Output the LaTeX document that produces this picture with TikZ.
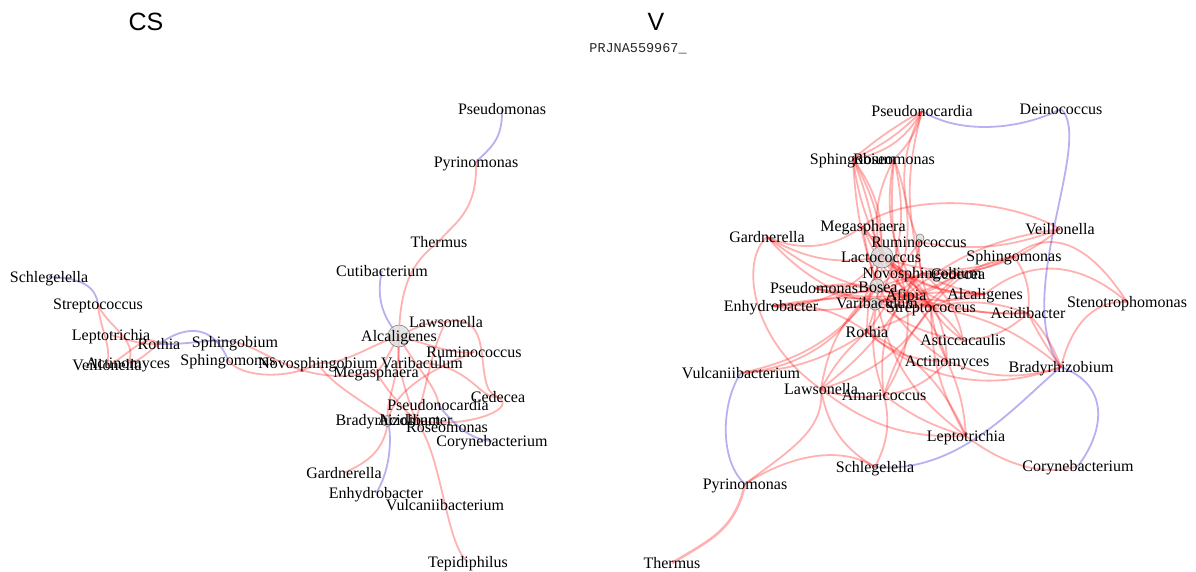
\documentclass[tikz,border=0pt]{standalone}
\usepackage{fontspec}
\setmainfont{Liberation Serif}
\newfontfamily\ttlfont{Liberation Sans}
\newfontfamily\prjfont{Liberation Mono}
\usetikzlibrary{backgrounds}
\definecolor{edgeblue}{RGB}{100,80,220}
\definecolor{edgered}{RGB}{255,0,0}
\begin{document}
\begin{tikzpicture}[x=1pt,y=-1pt,
  lab/.style={inner sep=0pt, text height=10.5pt, text depth=0pt, font=\fontsize{16}{18}\selectfont},
  re/.style={draw=edgered, draw opacity=0.3, line width=1.8pt},
  be/.style={draw=edgeblue, draw opacity=0.45, line width=1.8pt},
  hub/.style={circle, draw=black!50, fill=black!12, fill opacity=0.85, inner sep=0pt, line width=0.6pt}]
\useasboundingbox (0,0) rectangle (1196,571);

% titles
\node[font=\ttlfont\fontsize{25}{25}\selectfont] (tCS) at (146,22) {CS};
\node[font=\ttlfont\fontsize{25}{25}\selectfont] (tV) at (656,22) {V};
\node[anchor=base, font=\prjfont\fontsize{13.5}{14}\selectfont, text=black!85] (tP) at (638,52) {PRJNA559967\_};

% ---------- CS network ----------
\node[hub, minimum size=22pt] (cAlcH) at (399,336) {};
\node[hub, minimum size=11pt] (cBraH) at (387,421) {};
\node[lab] (cPsm) at (502,109) {Pseudomonas};
\node[lab] (cPyr) at (476,162) {Pyrinomonas};
\node[lab] (cThe) at (439,242) {Thermus};
\node[lab] (cCut) at (382,271) {Cutibacterium};
\node[lab] (cAlc) at (399,336) {Alcaligenes};
\node[lab] (cLaw) at (446,322) {Lawsonella};
\node[lab] (cRum) at (474,352) {Ruminococcus};
\node[lab] (cVar) at (422,363) {Varibaculum};
\node[lab] (cNov) at (318,363) {Novosphingobium};
\node[lab] (cMeg) at (376,372) {Megasphaera};
\node[lab] (cSpb) at (235,342) {Sphingobium};
\node[lab] (cSpm) at (228,360) {Sphingomonas};
\node[lab] (cRot) at (159,344) {Rothia};
\node[lab] (cAct) at (128,363) {Actinomyces};
\node[lab] (cVei) at (107,365) {Veillonella};
\node[lab] (cLep) at (111,335) {Leptotrichia};
\node[lab] (cStr) at (98,304) {Streptococcus};
\node[lab] (cSch) at (49,277) {Schlegelella};
\node[lab] (cCed) at (498,397) {Cedecea};
\node[lab] (cPsn) at (438,405) {Pseudonocardia};
\node[lab] (cBra) at (388,420) {Bradyrhizobium};
\node[lab] (cAcb) at (415,420) {Acidibacter};
\node[lab] (cRos) at (447,427) {Roseomonas};
\node[lab] (cCor) at (492,441) {Corynebacterium};
\node[lab] (cGar) at (344,473) {Gardnerella};
\node[lab] (cEnh) at (376,493) {Enhydrobacter};
\node[lab] (cVul) at (445,505) {Vulcaniibacterium};
\node[lab] (cTep) at (468,562) {Tepidiphilus};

% ---------- V network ----------
\node[hub, minimum size=22pt] (vLacH) at (882,257) {};
\node[hub, minimum size=8pt] (vRumH) at (920,238) {};
\node[hub, minimum size=14pt] (vBosH) at (877,286) {};
\node[hub, minimum size=12pt] (vVarH) at (875,304) {};
\node[lab] (vPsn) at (922,111) {Pseudonocardia};
\node[lab] (vDei) at (1061,109) {Deinococcus};
\node[lab] (vSpb) at (853,159) {Sphingobium};
\node[lab] (vRos) at (894,159) {Roseomonas};
\node[lab] (vMeg) at (863,226) {Megasphaera};
\node[lab] (vGar) at (767,237) {Gardnerella};
\node[lab] (vRum) at (919,242) {Ruminococcus};
\node[lab] (vLac) at (881,257) {Lactococcus};
\node[lab] (vSpm) at (1014,256) {Sphingomonas};
\node[lab] (vVei) at (1060,229) {Veillonella};
\node[lab] (vNov) at (922,273) {Novosphingobium};
\node[lab] (vCed) at (958,274) {Cedecea};
\node[lab] (vPsm) at (814,288) {Pseudomonas};
\node[lab] (vBos) at (878,287) {Bosea};
\node[lab] (vAfi) at (906,295) {Afipia};
\node[lab] (vAlc) at (985,294) {Alcaligenes};
\node[lab] (vSte) at (1127,302) {Stenotrophomonas};
\node[lab] (vEnh) at (771,306) {Enhydrobacter};
\node[lab] (vVar) at (877,303) {Varibaculum};
\node[lab] (vStr) at (931,307) {Streptococcus};
\node[lab] (vAcb) at (1028,313) {Acidibacter};
\node[lab] (vRot) at (867,332) {Rothia};
\node[lab] (vAst) at (963,340) {Asticcacaulis};
\node[lab] (vAct) at (947,361) {Actinomyces};
\node[lab] (vBra) at (1061,367) {Bradyrhizobium};
\node[lab] (vVul) at (741,373) {Vulcaniibacterium};
\node[lab] (vLaw) at (821,389) {Lawsonella};
\node[lab] (vAma) at (884,395) {Amaricoccus};
\node[lab] (vLep) at (966,436) {Leptotrichia};
\node[lab] (vSch) at (875,467) {Schlegelella};
\node[lab] (vCor) at (1078,466) {Corynebacterium};
\node[lab] (vPyr) at (745,484) {Pyrinomonas};
\node[lab] (vThe) at (672,563) {Thermus};

\begin{scope}[on background layer]
% CS edges
\draw[be] (cPsm.center) .. controls (503,140) and (490,148) .. (cPyr.center);
\draw[re] (cPyr.center) .. controls (478,215) and (450,225) .. (cThe.center);
\draw[re] (cThe.center) .. controls (410,262) and (400,290) .. (cAlc.center);
\draw[be] (cCut.center) .. controls (375,300) and (385,320) .. (cAlc.center);
\draw[be] (cSch.center) .. controls (80,278) and (95,285) .. (cStr.center);
\draw[re] (cStr.center) .. controls (100,330) and (112,345) .. (cVei.center);
\draw[re] (cStr.center) .. controls (105,325) and (140,340) .. (cAct.center);
\draw[re] (cLep.center) .. controls (130,340) and (140,345) .. (cRot.center);
\draw[re] (cVei.center) .. controls (125,360) and (145,330) .. (cRot.center);
\draw[re] (cAct.center) .. controls (140,362) and (150,350) .. (cRot.center);
\draw[be] (cRot.center) .. controls (190,322) and (215,328) .. (cSpm.center);
\draw[be] (cRot.center) .. controls (190,345) and (210,338) .. (cSpb.center);
\draw[re] (cSpm.center) .. controls (240,378) and (290,380) .. (cNov.center);
\draw[re] (cSpb.center) .. controls (270,350) and (300,388) .. (cMeg.center);
\draw[re] (cAlc.center) .. controls (370,345) and (345,365) .. (cNov.center);
\draw[re] (cAlc.center) .. controls (390,350) and (385,365) .. (cMeg.center);
\draw[re] (cAlc.center) .. controls (420,325) and (435,320) .. (cLaw.center);
\draw[re] (cAlc.center) .. controls (430,345) and (455,355) .. (cRum.center);
\draw[re] (cLaw.center) .. controls (500,310) and (470,390) .. (cCed.center);
\draw[re] (cCed.center) .. controls (520,410) and (460,430) .. (cAcb.center);
\draw[re] (cRum.center) .. controls (430,370) and (395,390) .. (cBra.center);
\draw[re] (cLaw.center) .. controls (430,350) and (425,400) .. (cAcb.center);
\draw[re] (cAlc.center) .. controls (395,370) and (410,400) .. (cAcb.center);
\draw[re] (cNov.center) .. controls (330,385) and (370,405) .. (cBra.center);
\draw[re] (cMeg.center) .. controls (390,395) and (405,410) .. (cAcb.center);
\draw[re] (cVar.center) .. controls (470,365) and (480,400) .. (cCed.center);
\draw[re] (cAlc.center) .. controls (410,360) and (440,390) .. (cPsn.center);
\draw[re] (cAlc.center) .. controls (400,380) and (385,400) .. (cBra.center);
\draw[be] (cPsn.center) .. controls (455,425) and (470,440) .. (cCor.center);
\draw[be] (cBra.center) .. controls (394,450) and (385,480) .. (cEnh.center);
\draw[re] (cBra.center) .. controls (385,455) and (360,465) .. (cGar.center);
\draw[re] (cAcb.center) .. controls (442,450) and (445,545) .. (cTep.center);

% V edges
\draw[be] (vPsn.center) .. controls (960,135) and (1020,130) .. (vDei.center);
\draw[be] (vDei.center) .. controls (1095,140) and (1010,300) .. (vBra.center);
\draw[be] (vBra.center) .. controls (1020,400) and (960,475) .. (vSch.center);
\draw[be] (vBra.center) .. controls (1110,385) and (1105,430) .. (vCor.center);
\draw[be] (vVul.center) .. controls (722,400) and (718,460) .. (vPyr.center);
\draw[re] (vLep.center) .. controls (1010,470) and (1050,475) .. (vCor.center);
\draw[re, line width=2.6pt] (vPyr.center) .. controls (735,530) and (710,540) .. (vThe.center);
\draw[re] (vPyr.center) .. controls (790,450) and (825,430) .. (vLaw.center);
\draw[re] (vPyr.center) .. controls (790,455) and (840,445) .. (vSch.center);
\draw[re] (vSpm.center) .. controls (1060,220) and (1100,260) .. (vSte.center);
\draw[re] (vAlc.center) .. controls (1040,250) and (1090,270) .. (vSte.center);
\draw[re] (vSte.center) .. controls (1090,300) and (1070,330) .. (vBra.center);
\draw[re] (vMeg.center) .. controls (900,195) and (1000,195) .. (vVei.center);
\draw[re] (vGar.center) .. controls (740,260) and (750,340) .. (vLaw.center);
\foreach \a/\b/\c in {
 vPsn/vSpb/25, vPsn/vSpb/10, vPsn/vSpb/-5, vPsn/vRos/15, vPsn/vRum/-25, vPsn/vNov/-15,
 vSpb/vLac/20, vSpb/vVar/12, vSpb/vBos/-8, vSpb/vRot/25, vSpb/vStr/-20,
 vRos/vLac/-20, vRos/vStr/-25, vRos/vAfi/-10, vRos/vVar/20, vRos/vRot/30,
 vMeg/vGar/30, vMeg/vLac/10, vMeg/vStr/-20, vMeg/vAlc/-30, vMeg/vAct/-25,
 vGar/vLac/-20, vGar/vStr/-25, vGar/vAfi/-15,
 vPsm/vBos/10, vPsm/vAfi/-10, vPsm/vStr/15, vPsm/vNov/-20, vPsm/vCed/-25,
 vEnh/vVar/-10, vEnh/vStr/10, vEnh/vLac/-25, vEnh/vRot/20, vEnh/vBos/-5,
 vVul/vBos/-20, vVul/vLac/-35, vVul/vRot/-15,
 vLaw/vRot/10, vLaw/vStr/-20, vLaw/vBos/20, vLaw/vAma/-15, vLaw/vLep/-20, vLaw/vSch/-25, vLaw/vAfi/-10,
 vAma/vAfi/-20, vAma/vVar/15, vAma/vLep/-10, vAma/vStr/10, vAma/vAct/-20, vAma/vNov/25,
 vAct/vStr/10, vAct/vAfi/-15, vAct/vRot/20, vAct/vLep/10, vAct/vLac/-30,
 vAst/vStr/10, vAst/vNov/-20, vAst/vVar/15, vAst/vAcb/-20, vAst/vBos/-25,
 vAlc/vNov/10, vAlc/vStr/-10, vAlc/vLac/20, vAlc/vAfi/15,
 vSpm/vNov/15, vSpm/vStr/-20, vSpm/vLac/20, vSpm/vAcb/20,
 vVei/vNov/20, vVei/vAfi/-15, vVei/vRum/15,
 vAcb/vStr/-15, vAcb/vAfi/10, vAcb/vBra/10, vAcb/vBra/-5, vAcb/vLac/25,
 vBra/vStr/-15, vBra/vAct/20, vBra/vRot/30,
 vRum/vBos/10, vRum/vStr/-10, vLac/vStr/10, vLac/vAfi/5, vBos/vStr/-5, vVar/vAlc/10,
 vNov/vVar/10, vCed/vBos/-10, vCed/vRot/15, vCed/vVar/15, vRum/vAfi/8, vLac/vRot/-10,
 vLep/vRot/-20, vLep/vVar/20, vLep/vStr/15,
 vSch/vAma/-20}
 \draw[re] (\a.center) to[bend left=\c] (\b.center);
\end{scope}
\end{tikzpicture}
\end{document}
